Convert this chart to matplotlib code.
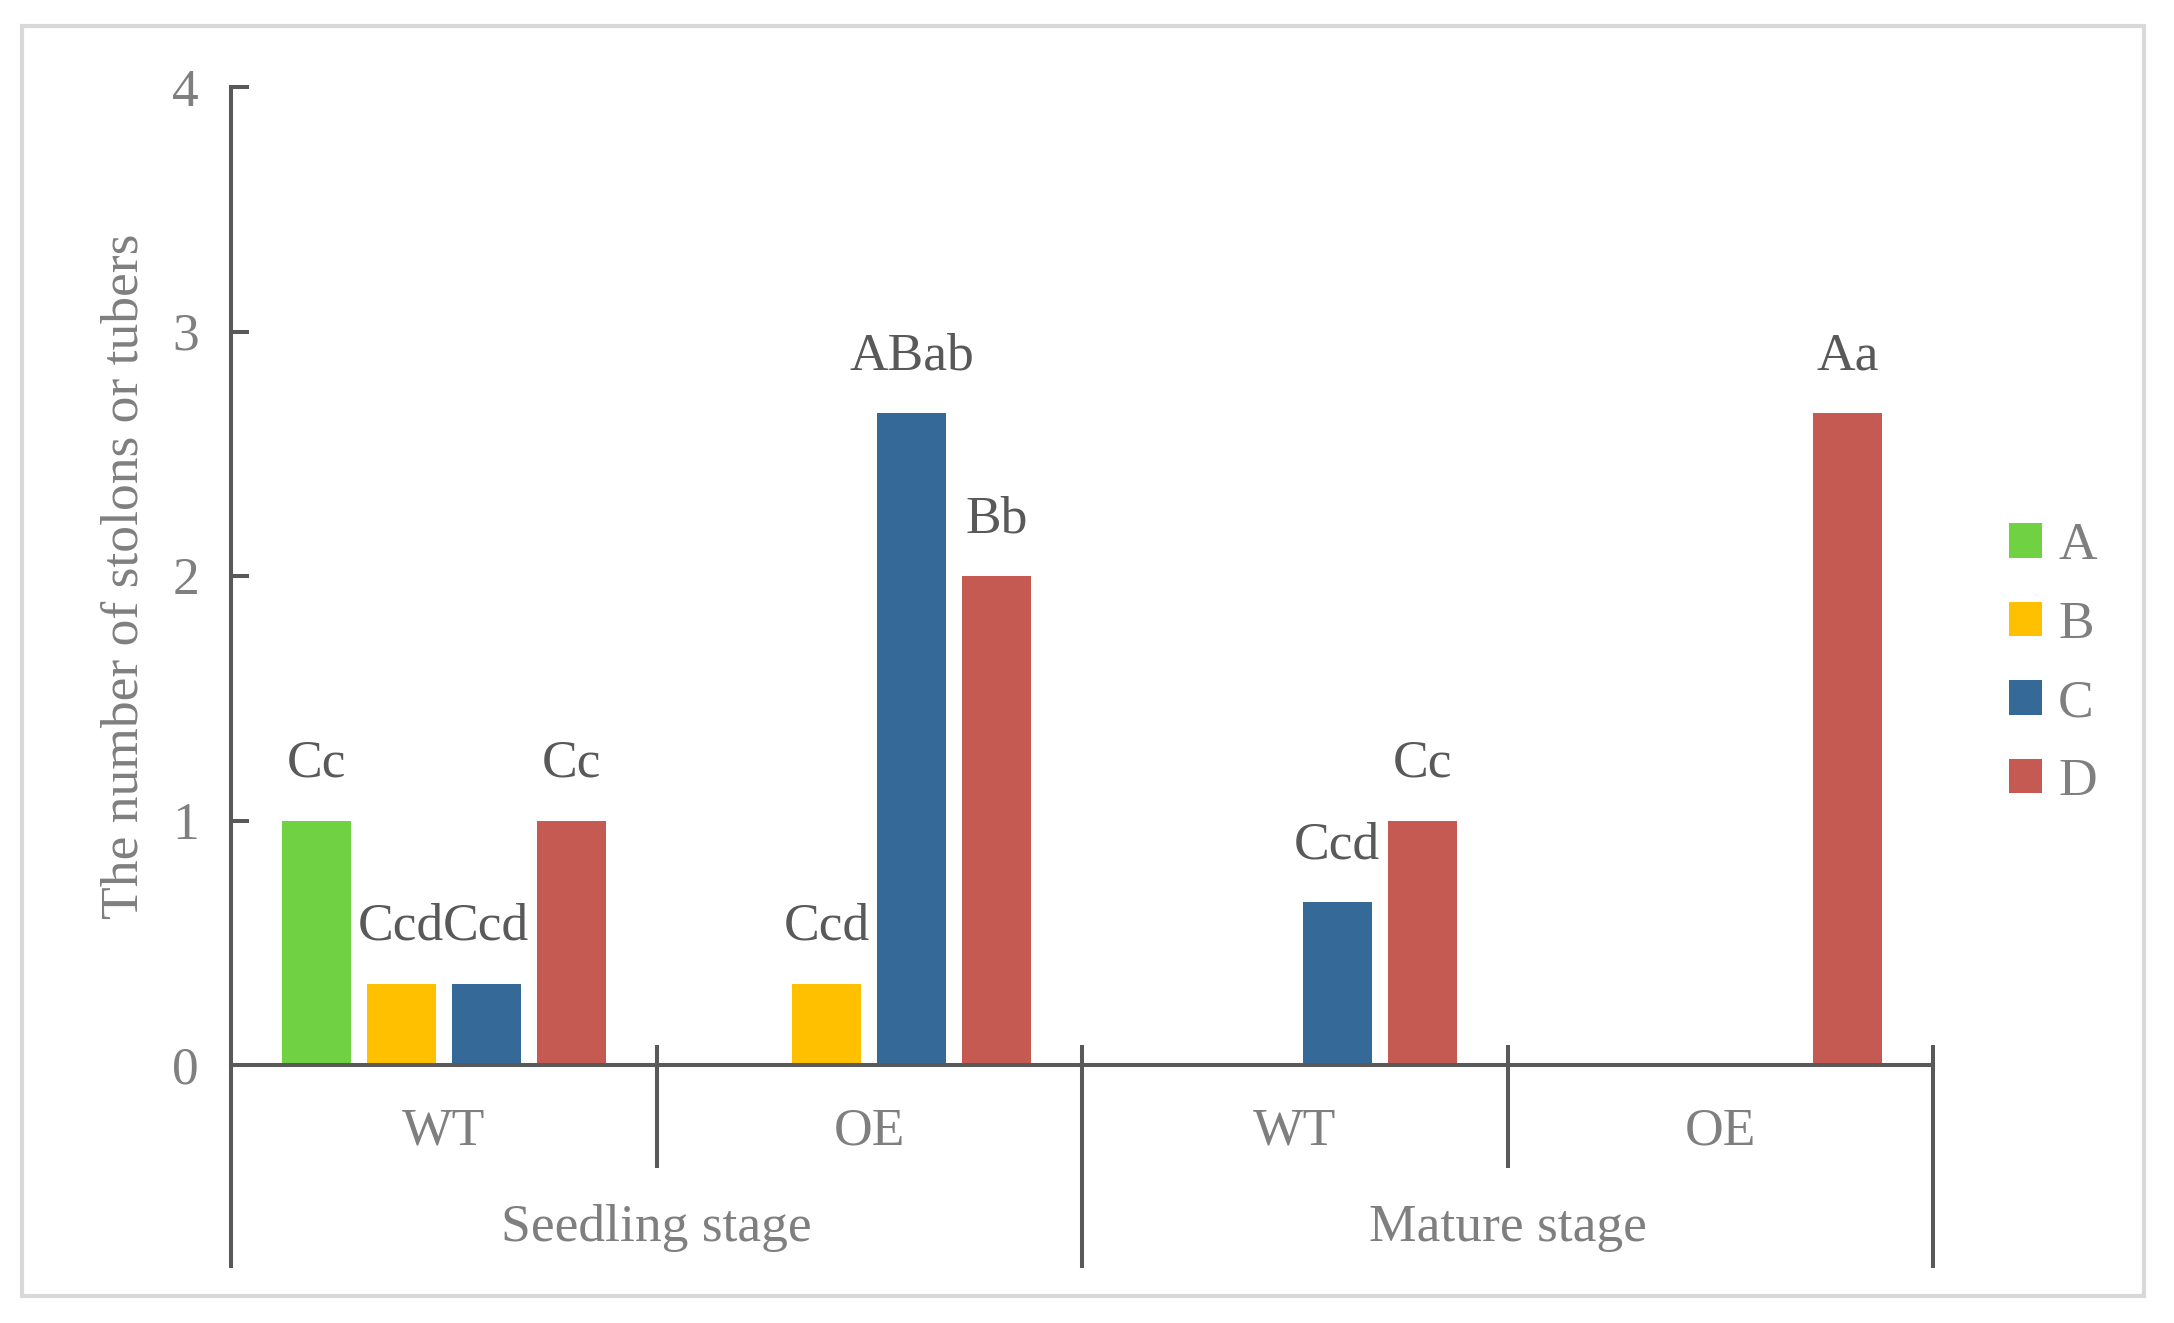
import matplotlib
matplotlib.use("Agg")
import matplotlib.pyplot as plt
import matplotlib.patches as mpatches
import numpy as np

# data
groups = ['WT', 'OE', 'WT', 'OE']
stages = ['Seedling stage', 'Mature stage']
series = ['A', 'B', 'C', 'D']
valsA = [1.0, 0.0, 0.0, 0.0]
valsB = [0.333, 0.333, 0.0, 0.0]
valsC = [0.333, 2.667, 0.667, 0.0]
valsD = [1.0, 2.0, 1.0, 2.667]
lettersA = ['Cc', '', '', '']
lettersB = ['Ccd', 'Ccd', '', '']
lettersC = ['Ccd', 'ABab', 'Ccd', '']
lettersD = ['Cc', 'Bb', 'Cc', 'Aa']
yticks = [0, 1, 2, 3, 4]

colors = ['#70D142', '#FFC000', '#356A98', '#C55A52']
lineCol = '#595959'
lightText = '#7F7F7F'
darkText = '#595959'
fs = 38.5
lw = 2.9

plt.rcParams['font.family'] = ['Liberation Serif', 'DejaVu Serif']

W, H = 2174, 1323
fig = plt.figure(figsize=(W / 100, H / 100), dpi=100)
ax = fig.add_axes([231 / W, 1 - 1065 / H, (1933 - 231) / W, (1065 - 87) / H])

x = np.arange(len(groups))
slot = 0.2
barW = 0.162
allVals = [valsA, valsB, valsC, valsD]
allLetters = [lettersA, lettersB, lettersC, lettersD]
for i, (vals, lets) in enumerate(zip(allVals, allLetters)):
    pos = x + (i - 1.5) * slot
    ax.bar(pos, vals, width=barW, color=colors[i], label=series[i], zorder=2)
    for p, v, t in zip(pos, vals, lets):
        if t:
            ax.annotate(t, (p, v), xytext=(0, 31.5), textcoords='offset points',
                        ha='center', va='baseline', fontsize=fs, color=darkText)

ax.set_xlim(-0.5, 3.5)
ax.set_ylim(0, 4)
ax.set_yticks(yticks)
ax.set_xticks([])
for s in ['top', 'right']:
    ax.spines[s].set_visible(False)
for s in ['left', 'bottom']:
    ax.spines[s].set_color(lineCol)
    ax.spines[s].set_linewidth(lw)
ax.tick_params(axis='y', direction='in', length=13, width=lw, color=lineCol,
               labelsize=fs, labelcolor=lightText, pad=23)

# category axis lines below the plot
deep = -0.83
short = -0.42
top = 0.082
ax.plot([-0.5, -0.5], [0, deep], color=lineCol, lw=lw, clip_on=False, solid_capstyle='butt')
for xv, lo in [(0.5, short), (1.5, deep), (2.5, short), (3.5, deep)]:
    ax.plot([xv, xv], [top, lo], color=lineCol, lw=lw, clip_on=False, solid_capstyle='butt')
for xi, g in zip(x, groups):
    ax.text(xi, -0.327, g, ha='center', va='baseline', fontsize=fs, color=lightText)
for k, st in enumerate(stages):
    ax.text(2 * k + 0.5, -0.72, st, ha='center', va='baseline', fontsize=fs, color=lightText)

fig.text(124 / W, 1 - 576 / H, 'The number of stolons or tubers', rotation=90,
         ha='center', va='center', fontsize=fs, color=lightText)

ax.legend(loc='center left', bbox_to_anchor=(2009 / W, 1 - 664 / H),
          bbox_transform=fig.transFigure, frameon=False, fontsize=fs,
          labelcolor=lightText, handlelength=0.62, handleheight=0.62,
          handletextpad=0.3, labelspacing=0.57, borderpad=0, borderaxespad=0)

fig.patches.append(mpatches.Rectangle((22 / W, 1 - 1296 / H), (2144 - 22) / W, (1296 - 26) / H,
                                      transform=fig.transFigure, fill=False,
                                      edgecolor='#D9D9D9', lw=3))

fig.savefig('out.png', dpi=100)
